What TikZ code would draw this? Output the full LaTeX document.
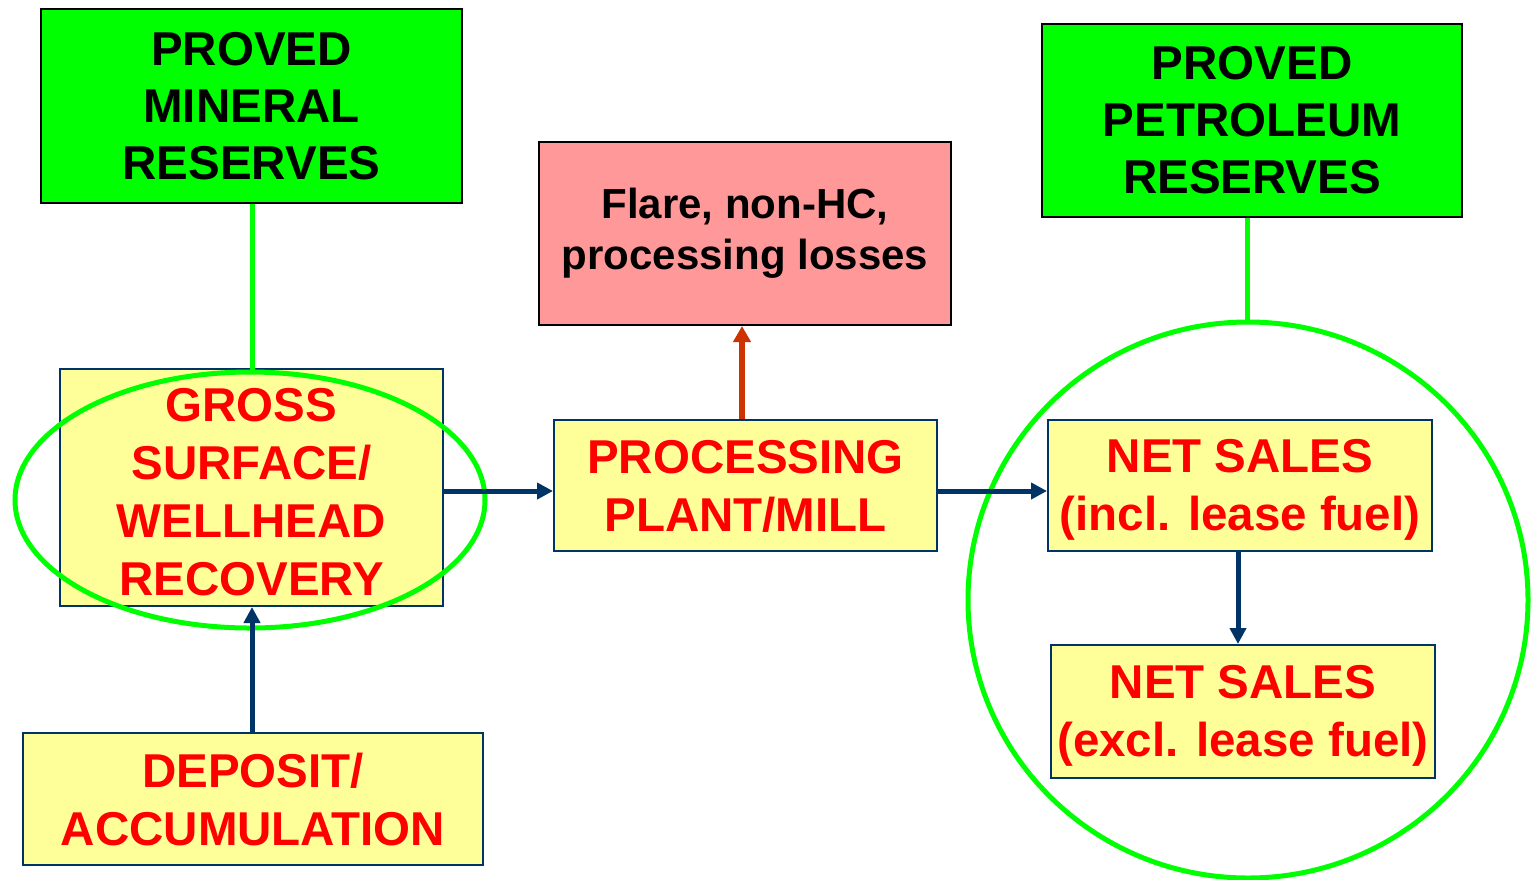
\documentclass[tikz,border=0pt]{standalone}
\usepackage{fontspec}
\setmainfont{Liberation Sans}
\usetikzlibrary{arrows.meta}
\definecolor{brgreen}{HTML}{00FF00}
\definecolor{lyellow}{HTML}{FFFF99}
\definecolor{navy}{HTML}{003366}
\definecolor{pinkbox}{HTML}{FF9999}
\definecolor{rarrow}{HTML}{CC3300}
\tikzset{
  greenbox/.style={draw=black, line width=2pt, fill=brgreen, align=center, inner sep=0pt,
    font=\bfseries\fontsize{47.5}{57}\selectfont},
  yellowbox/.style={draw=navy, line width=2pt, fill=lyellow, align=center, inner sep=0pt,
    text=red, font=\bfseries\fontsize{47.5}{58}\selectfont},
  pinkbox/.style={draw=black, line width=2pt, fill=pinkbox, align=center, inner sep=0pt,
    font=\bfseries\fontsize{42}{51}\selectfont},
  flow/.style={draw=navy, line width=5pt, -{Triangle[length=16pt,width=16pt]}},
  lossflow/.style={draw=rarrow, line width=5.5pt, -{Triangle[length=16pt,width=17pt]}},
  link/.style={draw=brgreen, line width=5pt},
  ring/.style={draw=brgreen, line width=5pt}
}
\begin{document}
\begin{tikzpicture}[x=1pt,y=-1pt]
\useasboundingbox[fill=white] (0,0) rectangle (1534,879);
\node[greenbox, minimum width=421pt, minimum height=194pt] (mineral) at (251.5,106) {PROVED\\MINERAL\\RESERVES};
\node[greenbox, minimum width=420pt, minimum height=193pt] (petro) at (1252,120.5) {PROVED\\PETROLEUM\\RESERVES};
\node[pinkbox, minimum width=412pt, minimum height=183pt] (flare) at (745,233.5) {Flare, non-HC,\\processing losses};
\node[yellowbox, minimum width=383pt, minimum height=237pt] (gross) at (251.5,487.5) {\rule{0pt}{42pt}GROSS\\SURFACE/\\WELLHEAD\\RECOVERY};
\node[yellowbox, minimum width=383pt, minimum height=131pt] (plant) at (745.5,485.5) {\rule{0pt}{34pt}PROCESSING\\PLANT/MILL};
\node[yellowbox, minimum width=384pt, minimum height=131pt] (netinc) at (1240,485.5) {\rule{0pt}{42pt}NET SALES\\(incl. lease fuel)};
\node[yellowbox, minimum width=384pt, minimum height=133pt] (netexc) at (1243,711.5) {\rule{0pt}{42pt}NET SALES\\(excl. lease fuel)};
\node[yellowbox, minimum width=460pt, minimum height=132pt] (deposit) at (253,799) {\rule{0pt}{35pt}DEPOSIT/\\ACCUMULATION};
% green rings
\draw[ring] (250,500) ellipse [x radius=235pt, y radius=128pt];
\draw[ring] (1248,600) ellipse [x radius=280pt, y radius=278pt];
\coordinate (ellipsetop) at (252,372);
\coordinate (circletop) at (1247,322);
\draw[link] (mineral.south -| ellipsetop) -- (ellipsetop);
\draw[link] (petro.south -| circletop) -- (circletop);
% flows
\draw[flow] (gross.east |- 0,491) -- (plant.west |- 0,491);
\draw[flow] (plant.east |- 0,491) -- (netinc.west |- 0,491);
\draw[flow] (deposit.north -| 252,0) -- (gross.south -| 252,0);
\draw[flow] (netinc.south -| 1238,0) -- (netexc.north -| 1238,0);
\draw[lossflow] (plant.north -| 742,0) -- (flare.south -| 742,0);
\end{tikzpicture}
\end{document}
